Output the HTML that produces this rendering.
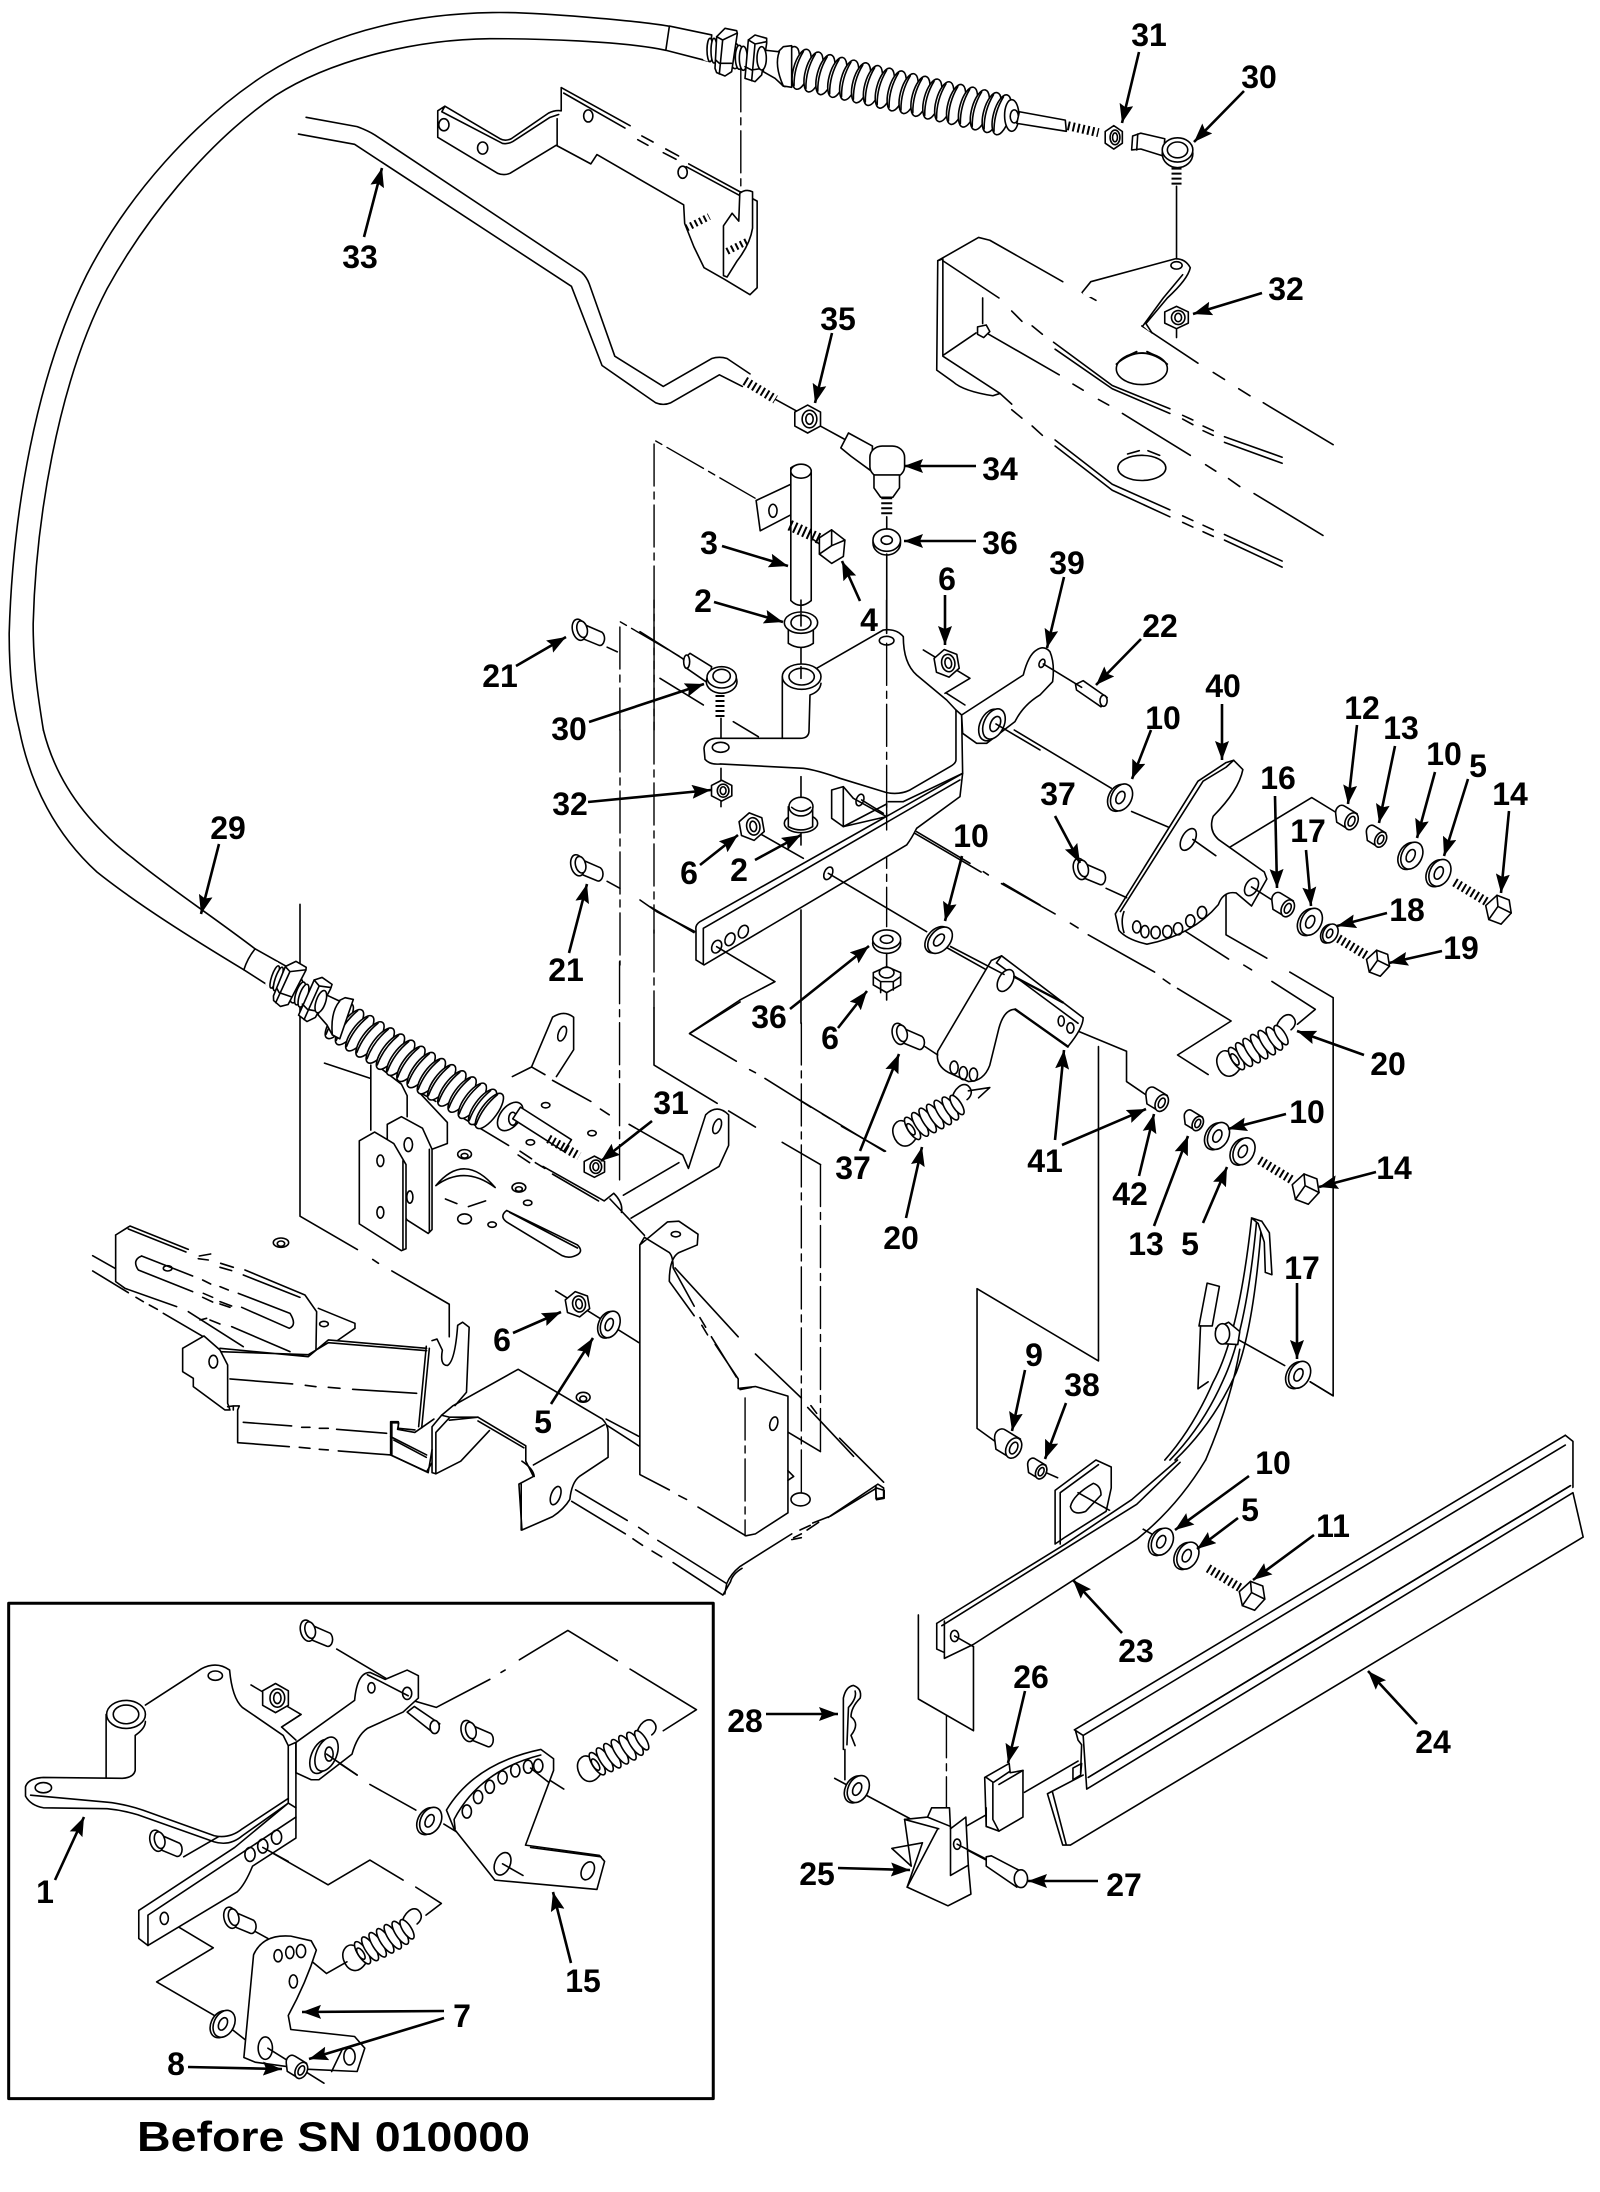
<!DOCTYPE html>
<html><head><meta charset="utf-8"><style>
html,body{margin:0;padding:0;background:#fff}
svg{display:block}
svg *{vector-effect:non-scaling-stroke}
.a{fill:none;stroke:#000;stroke-width:1.6;stroke-linejoin:round;stroke-linecap:round}
.a .f,.f{fill:#fff}
.c{stroke-dasharray:42 6 7 6;stroke-width:1.4}
.t{stroke-width:7;stroke-dasharray:2 3;stroke-linecap:butt}
.lb text{font:bold 32px "Liberation Sans",sans-serif;text-anchor:middle;fill:#000}
.ar line{stroke:#000;stroke-width:2.6;marker-end:url(#ah)}
</style></head><body>
<svg xmlns="http://www.w3.org/2000/svg" width="1600" height="2192" viewBox="0 0 1600 2192">
<defs>
<marker id="ah" markerUnits="userSpaceOnUse" markerWidth="20" markerHeight="16" refX="19" refY="7" orient="auto"><path d="M0,0L19,7L0,14L3,7Z" fill="#000" style="vector-effect:none"/></marker>
<g id="w" class="f"><ellipse cx="-3" cy="2" rx="20" ry="30" transform="rotate(22)"/><ellipse cx="2" cy="-1" rx="20" ry="30" transform="rotate(22)"/><ellipse rx="8" ry="14" transform="rotate(22)"/></g>
<g id="u" class="f"><path d="M-22,-10A12,16 0 0 1 -4,-26L20,-10L4,24L-20,8Z"/><ellipse cx="9" cy="6" rx="12" ry="19" transform="rotate(22 9 6)"/><ellipse cx="9" cy="6" rx="6" ry="11" transform="rotate(22 9 6)"/></g>
<g id="n" class="f"><path d="M0,-24L21,-12L21,12L0,24L-21,12L-21,-12Z"/><ellipse cx="3" rx="12" ry="15"/><ellipse cx="3" rx="6" ry="9"/></g>
<g id="b" class="f"><line class="t" x1="-85" y1="-58" x2="-22" y2="-16" style="stroke-width:9"/><path d="M-24,-8L-2,-30L22,-20L26,8L6,32L-18,22Z"/><path d="M-2,-30L0,-6L26,8M0,-6L-18,22" /></g>
<g id="p" class="f"><path d="M0,-14L42,6A9,15 0 0 1 36,34L-4,16Z"/><ellipse cx="-3" rx="13" ry="23" transform="rotate(-12)"/><ellipse cx="3" rx="10" ry="18" transform="rotate(-12)"/></g>
<g id="s"><path d="M-60,25C-90,42 -102,18 -96,-6C-90,-30 -70,-36 -62,-25M48,-15C62,-38 92,-44 94,-24C96,-10 86,-2 76,0"/><g class="f"><ellipse cx="-54" rx="10" ry="30"/><ellipse cx="-36" rx="10" ry="32"/><ellipse cx="-18" rx="10" ry="33"/><ellipse cx="0" rx="10" ry="33"/><ellipse cx="18" rx="10" ry="33"/><ellipse cx="36" rx="10" ry="31"/><ellipse cx="52" rx="9" ry="26"/></g><ellipse cx="-58" rx="6" ry="15"/></g>
<g id="r"><ellipse class="f" rx="16" ry="44"/><path d="M-6,-38Q-16,0 -6,38"/></g>
<g id="cn"><path class="f" d="M25,105L10,105L10,180L25,185Z" style="stroke:none"/>
<ellipse class="f" cx="30" cy="150" rx="9" ry="35"/><ellipse class="f" cx="42" cy="152" rx="9" ry="37"/>
<path class="f" d="M190,150L235,155L250,140L275,137L275,262L250,258L225,235L190,215Z"/>
<path d="M238,155Q222,195 250,258"/>
<ellipse class="f" cx="105" cy="168" rx="16" ry="38"/><ellipse class="f" cx="118" cy="172" rx="12" ry="36"/><ellipse class="f" cx="130" cy="175" rx="12" ry="36"/>
<path class="f" d="M45,205L50,110L75,85L110,92L112,100L95,215L75,228L50,218Z"/><path d="M50,110L68,120L110,100M68,120L58,222M47,180L58,190L95,190"/>
<path class="f" d="M135,235L145,120L165,105L200,115L200,130L185,225L165,245Z"/><path d="M145,120L165,132L200,125M165,132L155,242M135,200L155,210L188,205"/>
<ellipse class="f" cx="185" cy="175" rx="14" ry="35"/></g>
</defs>

<!-- Q1 upper-left : cable, rod, upper bracket -->
<g class="a" transform="scale(.5102,.4656)">
<path d="M1310,56C1250,45 1050,25 965,27C800,30 650,70 520,160C380,260 250,420 170,590C70,810 25,1100 18,1360C18,1450 25,1510 38,1568"/>
<path d="M1305,108C1220,88 1050,83 960,83C800,85 640,135 540,205C400,310 280,480 210,620C110,830 70,1130 65,1340C65,1430 75,1500 85,1568"/>
<path class="f" d="M1312,56L1395,75L1390,132L1305,108Z"/>
<line class="c" x1="1452" y1="150" x2="1452" y2="425"/>

<path class="f" d="M858,238L872,228L980,298Q990,304 1002,298L1075,243Q1088,236 1100,238L1100,188L1484,432L1484,618L1470,633L1420,600L1380,575L1360,530L1342,480L1340,440L1170,332L1158,352L1090,312L1000,372Q988,378 975,372L858,295Z" style="stroke:none"/>
<path d="M1100,238L1100,188L1235,270M1105,200L1225,275M1258,292L1280,305M1250,300L1270,312M1305,320L1330,335M1300,328L1325,342M1350,352L1484,432L1484,618L1470,633L1420,600L1380,575L1360,530L1342,480L1340,440L1170,332L1158,352L1090,312L1000,372Q988,378 975,372L858,295L858,238L872,228L980,298Q990,304 1002,298L1075,243Q1088,236 1100,238M872,228L866,240L985,308Q995,310 1005,304L1078,252L1095,246M1092,255L1092,312M1345,358L1450,420"/>
<ellipse cx="870" cy="268" rx="10" ry="13"/><ellipse cx="946" cy="318" rx="10" ry="13"/><ellipse cx="1153" cy="249" rx="9" ry="13"/><ellipse cx="1338" cy="370" rx="9" ry="13"/>
<line class="t" x1="1345" y1="490" x2="1390" y2="465"/>
<path class="f" d="M1450,415Q1462,405 1475,412L1475,490Q1470,525 1445,560L1425,595L1418,592L1418,485L1435,458L1448,475Z"/>
<line class="t" x1="1425" y1="540" x2="1465" y2="518"/>

<path d="M600,252L700,272Q720,280 735,290L1140,585Q1150,595 1155,610L1205,765L1300,830L1395,770Q1410,765 1425,770L1470,803"/>
<path d="M585,288L695,310L1120,615L1180,785L1285,865Q1300,872 1315,865L1410,805L1455,830"/>
<line class="t" x1="1460" y1="818" x2="1520" y2="858" style="stroke-width:9"/>
<line x1="1520" y1="858" x2="1570" y2="888"/>

<path d="M1282,1568L1282,945L1480,1070" class="c" />
<path d="M1215,1568L1215,1335L1345,1418" class="c"/>
<path class="f" d="M1482,1075L1560,1035L1560,1100L1490,1140Z"/>
<ellipse cx="1515" cy="1097" rx="8" ry="14"/>
<use href="#p" transform="translate(1138,1352)"/>
<line x1="1190" y1="1390" x2="1210" y2="1400"/>
</g>

<!-- Q2 upper-right -->
<g class="a" transform="translate(800,0) scale(.5102,.4656)">
<g transform="translate(-20,143) rotate(14)">
<use href="#r"/><use href="#r" x="24"/><use href="#r" x="48"/><use href="#r" x="72"/><use href="#r" x="96"/><use href="#r" x="120"/><use href="#r" x="144"/><use href="#r" x="168"/><use href="#r" x="192"/><use href="#r" x="216"/><use href="#r" x="240"/><use href="#r" x="264"/><use href="#r" x="288"/><use href="#r" x="312"/><use href="#r" x="336"/><use href="#r" x="360"/><use href="#r" x="384"/><use href="#r" x="408"/><use href="#r" x="428"/>
</g>
<ellipse class="f" cx="415" cy="248" rx="14" ry="34"/><ellipse class="f" cx="420" cy="250" rx="8" ry="14"/>
<path class="f" d="M430,240L520,258L522,282L425,265Z"/>
<line class="t" x1="525" y1="270" x2="585" y2="285" style="stroke-width:9"/>
<use href="#n" transform="translate(615,295) scale(.8,1.05)"/>
<path class="f" d="M652,292L668,286L715,298L712,335L668,320L650,322Z"/><path d="M662,288L660,322"/>
<line x1="738" y1="400" x2="738" y2="560"/>
<line x1="738" y1="700" x2="738" y2="725"/>
<path d="M270,560L350,510L372,516L515,605M555,630L580,645M670,700L780,780M810,800L832,815M860,835L882,850M908,865L1045,955"/>
<path class="f" d="M270,560L280,556L280,765L392,845L378,850Q320,840 300,820L268,795Z"/>
<path d="M280,560L390,640M415,668L435,690M455,700L475,718M500,750L612,835L725,888M750,900L770,912M790,925L810,935M832,950L945,995M497,735L612,828L725,878M750,892L770,902M790,915L810,925M832,938L945,982"/>
<path d="M358,640L358,695M282,762L345,715M370,718L508,805M535,825L555,838M585,858L605,870M632,888L765,978M795,998L815,1012M840,1028L862,1045M890,1060L1025,1150"/>
<path d="M392,845L415,868M415,880L435,898M455,915L475,935M500,945L612,1040L725,1095M750,1108L770,1118M790,1128L810,1138M832,1148L945,1205M500,958L612,1053L725,1110M750,1122L770,1132M790,1142L810,1152M832,1160L945,1218"/>
<path class="f" d="M348,702L365,698L372,712L360,725L348,718Z"/>
<ellipse class="f" cx="670" cy="792" rx="50" ry="34"/><path d="M620,782Q670,735 720,782M640,765L660,755M680,755L705,768"/>
<ellipse class="f" cx="670" cy="1005" rx="47" ry="27"/><path d="M642,975L665,968M682,968L705,978"/>
<path class="f" d="M553,628L570,605L735,556Q755,555 765,575Q760,600 690,680L685,712L672,700L720,620L730,600L560,640Z" style="stroke:none"/>
<path d="M553,628L570,605L735,556Q755,555 765,575Q760,600 720,640L678,695L690,715M672,700L712,640L750,590"/>
<ellipse class="f" cx="738" cy="570" rx="11" ry="8"/>
<use href="#n" transform="translate(738,682) scale(1.1,1)"/>
<g transform="translate(740,322)"><line class="t" x1="-2" y1="38" x2="-2" y2="80" style="stroke-width:10"/><ellipse class="f" cy="8" rx="30" ry="30"/><ellipse class="f" rx="30" ry="26"/><ellipse rx="20" ry="17"/></g>
<use href="#n" transform="translate(15,900) scale(1.2,1.25)"/>
<line x1="40" y1="915" x2="90" y2="945"/>
<path class="f" d="M80,962L95,930L142,958L140,1012L100,980Z"/>
<rect class="f" x="137" y="958" width="68" height="68" rx="24"/>
<path class="f" d="M145,1020L195,1020L195,1048L182,1068L158,1068L145,1048Z"/>
<line class="t" x1="170" y1="1068" x2="170" y2="1110" style="stroke-width:11"/>
<ellipse class="f" cx="170" cy="1166" rx="27" ry="26"/><ellipse class="f" cx="170" cy="1160" rx="27" ry="24"/><ellipse cx="170" cy="1160" rx="11" ry="9"/>
<line x1="170" y1="1110" x2="170" y2="1136"/><line x1="170" y1="1190" x2="170" y2="1350"/>
<line x1="-10" y1="1130" x2="40" y2="1170"/>
<path class="f" d="M-18,1005L-18,1290Q0,1310 22,1290L22,1010Q0,990 -18,1005Z"/><ellipse class="f" cx="2" cy="1012" rx="20" ry="15"/>
<line class="t" x1="-20" y1="1128" x2="40" y2="1158" style="stroke-width:11"/>
<path class="f" d="M38,1155L62,1138L88,1160L85,1195L62,1210L38,1190Z"/><path d="M62,1138L62,1172L88,1160M62,1172L38,1190"/>
<path class="f" d="M540,1470L555,1462L602,1498L590,1518L542,1482Z"/><ellipse class="f" cx="595" cy="1505" rx="7" ry="12"/>
</g>
<!-- top cable end nuts -->
<g class="a"><use href="#cn" transform="translate(700,0) scale(.3333)"/></g>

<!-- Y left bracket -->
<g class="a" transform="translate(0,1180) scale(.3333)">
<path d="M278,227L345,265M278,273L385,338M408,352L430,365M448,375L472,388M490,400L610,470"/>
<path d="M347,165L390,138L565,208M385,147L558,216M598,228L632,222M595,236L625,240M662,250L700,262M660,262L695,272M735,270L915,345L950,395L948,510M730,285L900,352"/>
<path d="M347,165L347,305L375,325L530,380M695,440L870,515"/>
<path d="M425,228L578,288M425,228Q395,240 415,270L578,335M608,300L632,312M660,320L685,330M610,340L638,352M608,352L638,366M660,365L695,378M660,372L690,382M715,340L870,400Q892,435 868,445L725,382"/>
<ellipse cx="503" cy="265" rx="13" ry="8"/>
<path d="M955,385L1065,430L1065,445L1012,482"/><ellipse cx="972" cy="432" rx="13" ry="8"/>
<path d="M565,395L730,500M600,420L620,415M630,420L660,432"/>
<path class="f" d="M660,505L925,530L985,480L1280,505L1300,490L1320,485L1332,510L1320,540L1280,520L1255,745L1195,750L1172,825L713,788L713,690L683,670L683,555Z" style="stroke:none"/>
<path d="M660,505L925,530L985,480L1280,505M660,515L925,524L985,488L1280,512"/>
<path class="f" d="M548,505L612,468L660,510L683,555L683,670L690,690L675,690L580,620L580,595L548,575Z"/>
<ellipse cx="640" cy="545" rx="13" ry="19"/>
<path d="M690,597L878,612M916,616L948,620M985,622L1020,625M1058,628L1250,640"/>
<path d="M683,680L700,678L700,690M700,678L718,678L713,690L713,788L868,800M898,802L930,805M958,808L985,810M1015,813L1172,825L1172,725L1195,725L1195,745L1245,750"/>
<path d="M730,727L875,738M905,742L930,742M958,745L985,745M1010,748L1160,760"/>
<path d="M1172,770L1280,825M1172,825L1280,875L1295,850"/>
<ellipse cx="843" cy="188" rx="23" ry="14"/><ellipse cx="843" cy="191" rx="11" ry="8"/>
</g>

<!-- Z lower-centre assembly -->
<g class="a" transform="translate(300,1000) scale(.3827)">
<line class="c" x1="835" y1="-100" x2="835" y2="470" />
<line class="c" x1="1310" y1="60" x2="1310" y2="1290"/>
<path d="M925,20L925,170L1090,270M1120,290L1190,332M1260,372L1360,430"/>
<path class="c" d="M1360,430L1360,1180"/><path d="M1360,1180L1238,1107"/>
<path d="M1018,88L1140,160M1175,182L1190,190M1215,205L1335,280M1365,298L1385,310M1415,330L1530,395"/>
<path d="M1018,88L1150,5"/>
<path d="M0,-250L0,565L150,652M190,678L205,688M240,708L390,795L390,880"/>
<path d="M64,165L185,205M310,240L385,320L385,375L345,390M310,240L355,265"/>
<path class="f" d="M185,170L200,170L265,220L280,250L280,310L185,340Z" style="stroke:none"/>
<path d="M185,170L185,340M200,170L265,220L280,250L280,305"/>
<path class="f" d="M228,325L265,305L320,335L345,390L345,600L335,610L280,575L228,500Z"/>
<path class="f" d="M155,368L195,345L245,375L277,430L277,650L265,655L155,585Z"/>
<path d="M269,420L269,650"/><path d="M338,390L338,605"/>
<ellipse cx="210" cy="420" rx="9" ry="15"/><ellipse cx="210" cy="555" rx="9" ry="15"/><ellipse cx="283" cy="378" rx="11" ry="18"/><ellipse cx="287" cy="515" rx="8" ry="16"/>
<path d="M555,200L605,175L660,45Q690,25 715,45L715,130L670,200M605,175L640,195M660,210L760,265M785,285L808,300M860,325L1000,405L1015,440L1060,300Q1090,270 1120,300L1120,380L1095,435L865,570M845,510L990,425"/>
<ellipse cx="685" cy="88" rx="10" ry="20" transform="rotate(20 685 88)"/><ellipse cx="1090" cy="330" rx="10" ry="20" transform="rotate(20 1090 330)"/>
<path d="M420,305L545,380M575,395L605,415M570,405L600,425M615,425L640,440M635,435L795,525L820,505Q845,530 840,555M660,455L780,525M810,520L900,615"/>
<path d="M355,485Q430,395 510,490M355,485Q430,430 510,490M380,520L410,532M440,540L485,525"/>
<ellipse cx="430" cy="403" rx="18" ry="12"/><ellipse cx="430" cy="407" rx="9" ry="6"/><ellipse cx="572" cy="490" rx="18" ry="12"/><ellipse cx="572" cy="494" rx="9" ry="6"/><ellipse cx="595" cy="530" rx="11" ry="7"/><ellipse cx="430" cy="572" rx="18" ry="13"/><ellipse cx="502" cy="587" rx="11" ry="7"/><ellipse cx="642" cy="275" rx="11" ry="7"/><ellipse cx="763" cy="348" rx="11" ry="7"/><ellipse cx="602" cy="372" rx="11" ry="7"/>
<path d="M540,550L725,640Q745,660 715,670Q700,675 685,668L540,580Q520,565 540,550ZM548,555L725,648"/>
<line x1="668" y1="760" x2="885" y2="895"/>
<use href="#n" transform="translate(725,795) rotate(-10) scale(1.4,1.4)"/>
<use href="#w" transform="translate(808,848) scale(1.2)"/>
<!-- tall panel -->
<path class="f" d="M888,1240L888,640L960,580L990,578L1040,612L1038,640L990,660Q965,675 965,735L1145,990L1145,1015L1190,1010L1275,1035L1275,1340L1190,1395L1165,1400L1140,1385Z" style="stroke:none"/>
<path d="M888,895L888,640L960,580L990,578L1040,612L1038,640L990,660Q965,675 965,735L1030,825M1050,850L1065,875M1085,900L1145,990L1145,1015L1190,1010L1275,1035L1275,1340L1190,1395L1165,1400L1140,1385L1040,1325M1010,1305L990,1295M965,1280L888,1240L888,895M975,700L1030,800M1045,830L1060,855M1075,880L1140,985M1150,1018L1180,1012M888,640L900,620L965,660M965,660Q975,670 975,700"/>
<ellipse cx="982" cy="612" rx="12" ry="7"/><ellipse cx="1238" cy="1107" rx="10" ry="18" transform="rotate(15 1238 1107)"/>
<line class="c" x1="1163" y1="1040" x2="1163" y2="1400"/>
<path d="M980,700L1145,880M1190,925L1310,1040M1335,1060L1350,1080M1410,1145L1525,1260"/>
<ellipse cx="1308" cy="1305" rx="25" ry="17"/><path d="M1275,1230L1290,1245L1275,1255"/>
<!-- base plate -->
<path d="M720,1280L855,1360M885,1378L910,1395M935,1412L1115,1525Q1125,1500 1150,1480L1285,1395M1290,1405L1310,1395M1325,1385L1355,1365M1380,1352L1510,1265L1525,1275L1525,1300L1505,1303L1505,1270M710,1310L850,1395M870,1408L895,1425M920,1440L945,1455M975,1470L1105,1555L1125,1520Q1130,1500 1155,1485M1115,1525L1110,1552M1285,1410L1310,1405"/>
<path d="M800,1095L885,1140M800,1110L885,1165"/>
<!-- centre hump bracket -->
<path class="f" d="M345,1235L345,1115L370,1085L400,1060L570,965L790,1095Q805,1110 805,1130L805,1195L730,1245Q710,1260 705,1305Q690,1330 660,1350L580,1385L572,1265L610,1245L590,1205L590,1165L465,1090L392,1090L355,1130L355,1238Z"/>
<path d="M370,1085L390,1090M390,1098L465,1090M465,1100L585,1170M610,1215L795,1110M355,1238L420,1205L495,1125M580,1205Q610,1225 612,1245M578,1265L578,1385"/>
<ellipse cx="740" cy="1038" rx="18" ry="13"/><ellipse cx="740" cy="1042" rx="9" ry="7"/>
<ellipse cx="668" cy="1295" rx="12" ry="25" transform="rotate(20 668 1295)"/>
<path d="M240,1105L258,1105L255,1122L300,1130L350,1095"/>
<path d="M240,1105L240,1190L335,1235L345,1175M245,1150L330,1195"/>
<path d="M330,905L310,1115M338,910L318,1118M345,890L358,886L372,915Q365,955 385,955Q405,945 412,850L425,842L442,855L435,1025L405,1060"/>
</g>

<!-- connecting lines in real px -->
<g class="a">
<line class="c" x1="654" y1="930" x2="654" y2="1008"/>
<line class="c" x1="620" y1="730" x2="620" y2="965"/>
<path d="M740,1000L690,1033"/>
</g>

<!-- X middle lever assembly -->
<g class="a" transform="translate(640,600) scale(.3333)">
<path d="M0,95L195,218M60,235L190,315M280,365L355,410"/>
<line class="c" x1="42" y1="0" x2="42" y2="1000"/>
<line x1="483" y1="0" x2="483" y2="45"/><line x1="483" y1="135" x2="483" y2="200"/>
<path d="M0,900L50,935M50,935L165,995"/>
<!-- plate and lever fill -->
<path class="f" d="M427,230L543,250L530,205L730,90Q770,85 790,110Q790,190 830,225L948,310L948,480L800,605L480,505L240,495L195,480L192,445L225,415L427,415Z" style="stroke:none"/>
<path d="M530,205L730,90Q770,85 790,110Q790,190 830,225L920,300L948,330L948,480Q948,490 930,500L810,570Q780,585 740,578L600,535Q530,510 490,505L240,492Q210,495 195,478L192,445Q195,420 225,415L480,415Q505,415 507,395L510,285Q540,275 543,250"/>
<path d="M427,230L427,415"/>
<ellipse class="f" cx="485" cy="230" rx="58" ry="38"/><ellipse class="f" cx="485" cy="230" rx="38" ry="25"/>
<line x1="483" y1="200" x2="483" y2="235"/>
<ellipse class="f" cx="242" cy="442" rx="25" ry="15"/><ellipse class="f" cx="740" cy="122" rx="22" ry="13"/>
<line x1="740" y1="0" x2="740" y2="100"/>
<line class="c" x1="740" y1="130" x2="740" y2="980" />
<!-- second skin -->
<path d="M948,330L965,345L968,520L790,605L745,605"/>
<path d="M915,280L990,235L850,150" />
<path d="M920,280L975,315"/>
<!-- right arm -->
<path class="f" d="M965,345L1150,225Q1165,165 1190,150Q1212,135 1230,155Q1245,190 1238,245L1200,285Q1150,315 1125,365L1040,430L1010,430L968,400Z"/>
<ellipse cx="1206" cy="190" rx="8" ry="13" transform="rotate(25 1206 190)"/>
<path d="M1210,192L1325,262"/>
<ellipse class="f" cx="1052" cy="375" rx="32" ry="50" transform="rotate(25 1052 375)"/><ellipse class="f" cx="1062" cy="372" rx="30" ry="48" transform="rotate(25 1062 372)"/><ellipse class="f" cx="1066" cy="372" rx="14" ry="24" transform="rotate(25 1066 372)"/>
<path d="M1068,372L1200,450"/>
<!-- block -->
<path class="f" d="M575,570L610,560L640,595L740,650L610,680L575,655Z" />
<path d="M610,560L610,680M610,680L740,612"/><ellipse cx="660" cy="600" rx="11" ry="18" transform="rotate(20 660 600)"/>
<path d="M665,600L730,640"/>
<line x1="483" y1="530" x2="483" y2="595"/><line x1="483" y1="700" x2="483" y2="735"/>
<ellipse class="f" cx="483" cy="670" rx="50" ry="28"/>
<path class="f" d="M445,620L445,680Q483,700 518,680L518,620Z"/>
<ellipse class="f" cx="483" cy="620" rx="36" ry="28"/><path d="M455,622Q483,645 512,622"/>
<!-- upper bushing -->
<path class="f" d="M445,70L445,130Q483,155 520,130L520,70Z"/>
<ellipse class="f" cx="483" cy="68" rx="50" ry="32"/><ellipse class="f" cx="483" cy="68" rx="30" ry="22"/>
<line x1="483" y1="40" x2="483" y2="78"/>
<!-- bar -->
<path class="f" d="M960,525L180,965Q165,975 168,990L168,1080L192,1095L800,735Q815,715 830,685L960,590L968,520Z"/>
<path d="M190,1090L190,985L960,540"/>
<ellipse cx="230" cy="1040" rx="14" ry="20" transform="rotate(25 230 1040)"/><ellipse cx="270" cy="1018" rx="14" ry="20" transform="rotate(25 270 1018)"/><ellipse cx="310" cy="995" rx="14" ry="20" transform="rotate(25 310 995)"/><ellipse cx="565" cy="820" rx="12" ry="20" transform="rotate(25 565 820)"/>
<line x1="740" y1="605" x2="740" y2="690" class="c"/>
<path d="M483,930L483,1270M830,695L990,790M1030,815L1045,825M1090,850L1200,915M358,700L490,775M565,820L860,995M915,1040L1040,1110M230,1040L405,1145L300,1200"/>
<!-- eyelet -->
<path class="f" d="M130,178L150,160L215,200L205,250L140,205Z"/><ellipse class="f" cx="140" cy="185" rx="9" ry="20"/>
<line class="t" x1="240" y1="285" x2="240" y2="355" style="stroke-width:9"/>
<ellipse class="f" cx="245" cy="245" rx="46" ry="35"/><ellipse class="f" cx="245" cy="232" rx="44" ry="32"/><ellipse class="f" cx="245" cy="228" rx="26" ry="20"/>
<line x1="243" y1="355" x2="243" y2="412"/><line x1="243" y1="505" x2="243" y2="620"/>
<use href="#n" transform="translate(245,572) scale(1.45,1.3)"/>
<use href="#n" transform="translate(335,680) rotate(-10) scale(1.65,1.75)"/>
<use href="#n" transform="translate(920,190) rotate(-10) scale(1.65,1.75)"/>
<ellipse class="f" cx="740" cy="1030" rx="42" ry="30"/><ellipse class="f" cx="740" cy="1018" rx="42" ry="28"/><ellipse cx="740" cy="1018" rx="19" ry="12"/>
<line x1="740" y1="1060" x2="740" y2="1100"/>
<path class="f" d="M740,1100L782,1118L782,1155L740,1178L700,1155L700,1118Z"/><ellipse class="f" cx="740" cy="1118" rx="22" ry="16"/><path d="M700,1130L722,1145L760,1145L782,1130M722,1145L722,1178M760,1145L760,1170"/>
<use href="#w" transform="translate(897,1020) rotate(18) scale(1.5)"/>
<line x1="740" y1="1178" x2="740" y2="1200"/>
</g>

<!-- Q3 cable + left assembly upper -->
<g class="a" transform="translate(0,730) scale(.5102,.4656)">
<path d="M85,0C110,110 170,200 260,275C320,330 410,395 500,470"/>
<path d="M38,0C60,120 110,225 190,305C270,375 380,450 478,515"/>
<path class="f" d="M500,470L565,510L535,555L478,515Q485,490 500,470Z"/>
<g transform="translate(665,625) rotate(33.3)">
<use href="#r"/><use href="#r" x="24"/><use href="#r" x="48"/><use href="#r" x="72"/><use href="#r" x="96"/><use href="#r" x="120"/><use href="#r" x="144"/><use href="#r" x="168"/><use href="#r" x="192"/><use href="#r" x="216"/><use href="#r" x="240"/><use href="#r" x="264"/><use href="#r" x="288"/><use href="#r" x="312"/><use href="#r" x="336"/><use href="#r" x="352"/>
</g>
<ellipse class="f" cx="1000" cy="830" rx="20" ry="34" transform="rotate(33 1000 830)"/><ellipse cx="1005" cy="835" rx="8" ry="14"/>
<path class="f" d="M1005,835L1020,810L1120,880L1105,905Z"/>
<line class="t" x1="1075" y1="878" x2="1135" y2="915" style="stroke-width:9"/>
<use href="#n" transform="translate(1165,938) scale(.95,.95)"/>
<use href="#p" transform="translate(1135,290)"/>
<path d="M1190,325L1215,340M1275,380L1360,435"/>
</g>
<g class="a"><use href="#cn" transform="translate(303,992) rotate(19) scale(.3333) translate(-125,-165)"/></g>

<!-- Q4 right-mid -->
<g class="a" transform="translate(800,730) scale(.5102,.4656)">
<path d="M0,795L165,905"/>
<path d="M15,1455L105,1560"/>
<path d="M420,0L610,125M650,175L725,210"/>
<path d="M225,222L355,305M395,330L500,395M530,415L545,425M565,440L695,520M712,535L725,545M740,555L845,625L740,698L800,740"/>
<path d="M745,425L840,492M870,505L885,515M925,540L1010,600L975,632"/>
<path d="M1045,575L1045,1430L1000,1400M835,308L835,440L915,490M835,308L870,335M960,520L1045,575"/>
<path d="M815,270L1003,145L1052,178"/>
<path d="M640,690L640,755L680,785M530,640L640,690M585,680L585,1355L347,1200L347,1500L385,1530" />
<!-- plate 40 -->
<path class="f" d="M835,70L850,65L868,85Q860,130 810,185Q800,215 820,235L910,305L915,320L885,378L855,350Q830,345 820,375Q770,440 680,460Q640,450 625,430L618,395L780,110Z"/>
<path d="M628,390L790,110L835,80L850,65M635,435Q628,410 635,390"/>
<ellipse class="f" cx="761" cy="235" rx="13" ry="25" transform="rotate(25 761 235)"/><ellipse class="f" cx="885" cy="337" rx="12" ry="20" transform="rotate(25 885 337)"/>
<ellipse cx="660" cy="423" rx="8" ry="13"/><ellipse cx="676" cy="433" rx="8" ry="13"/><ellipse cx="697" cy="435" rx="9" ry="13"/><ellipse cx="720" cy="433" rx="9" ry="13"/><ellipse cx="741" cy="427" rx="9" ry="13"/><ellipse cx="765" cy="410" rx="9" ry="13"/><ellipse cx="788" cy="392" rx="9" ry="13"/>
<path d="M770,235L815,270M885,337L925,365M600,340L640,360"/>
<use href="#w" transform="translate(628,145)"/>
<use href="#p" transform="translate(552,298)"/>
<use href="#u" transform="translate(1072,190)"/>
<use href="#u" transform="translate(1130,230) scale(.9)"/>
<use href="#w" transform="translate(1197,270)"/>
<use href="#w" transform="translate(1252,307)"/>
<use href="#b" transform="translate(1368,385)"/>
<use href="#u" transform="translate(947,377)"/>
<use href="#w" transform="translate(1000,412)"/>
<use href="#w" transform="translate(1038,437) scale(.7)"/>
<use href="#b" transform="translate(1132,500) scale(.9)"/>
<use href="#s" transform="translate(900,680) rotate(-30) scale(.95,.9)"/>
<!-- 41 plate -->
<path class="f" d="M375,495L395,485L555,618Q555,640 525,680L422,600Q400,600 390,640L372,720Q360,755 330,755L290,735Q265,720 270,690Z"/>
<path d="M395,485L385,500L545,630"/>
<ellipse class="f" cx="403" cy="538" rx="14" ry="25" transform="rotate(25 403 538)"/><ellipse cx="512" cy="625" rx="6" ry="11"/><ellipse cx="530" cy="640" rx="7" ry="11"/>
<ellipse cx="302" cy="725" rx="8" ry="14"/><ellipse cx="320" cy="737" rx="8" ry="14"/><ellipse cx="340" cy="740" rx="8" ry="14"/>
<path d="M420,530L515,585M422,600L525,680" style="stroke-width:2.4"/>
<path d="M295,465L400,525"/>
<use href="#p" transform="translate(197,652)"/>
<line x1="245" y1="680" x2="270" y2="698"/>
<use href="#s" transform="translate(265,830) rotate(-30) scale(.95,.9)"/>
<path d="M330,775L372,768L350,790"/>
<use href="#u" transform="translate(700,795)"/>
<use href="#u" transform="translate(772,840) scale(.85)"/>
<use href="#w" transform="translate(818,872)"/>
<use href="#w" transform="translate(868,905)"/>
<use href="#b" transform="translate(990,985) scale(1.05)"/>
<!-- pedal arm -->
<path d="M885,1050Q860,1300 810,1400Q770,1500 715,1568M905,1055Q890,1280 855,1380Q810,1490 735,1568M895,1055Q875,1290 830,1395Q790,1495 725,1568M862,1330Q845,1440 795,1568"/>
<path class="f" d="M885,1048L905,1055L920,1080L925,1170L912,1165L910,1100L898,1060Z"/>
<path class="f" d="M798,1188L822,1195L808,1280L782,1280Z"/>
<path d="M785,1280L780,1415L800,1400"/>
<path class="f" d="M815,1285L840,1272L862,1292L858,1320L830,1318Z"/><ellipse class="f" cx="828" cy="1297" rx="14" ry="22"/>
<path d="M860,1310L950,1365M1000,1400L1045,1430"/>
<use href="#w" transform="translate(977,1385)"/>
<!-- 9 -->
<use href="#u" transform="translate(408,1535) scale(1.2)"/>
</g>

<!-- Q6 lower right -->
<g class="a" transform="translate(800,1460) scale(.5102,.4668)">
<path d="M0,150L20,140M25,135L55,122M60,120L150,60L165,65L165,82L150,85L148,60"/>
<path d="M478,25L505,38"/>
<use href="#u" transform="translate(465,20) scale(.85)"/>
<path class="f" d="M500,180L500,65L580,0L610,15L610,60L600,110L520,165Z"/>
<path d="M510,180L510,70L585,10"/>
<path d="M530,100Q535,75 575,50Q590,55 590,75L560,110Q535,120 530,100ZM545,70L700,165"/>
<path class="f" d="M268,350L520,180L740,0L795,0Q700,85 660,170L340,395L282,425L268,405Z" style="stroke:none"/>
<path d="M268,350L520,180L650,85L740,0M278,355L520,190L660,95L745,5M283,345L283,425L340,395L660,170Q740,100 795,0"/>
<ellipse cx="303" cy="377" rx="8" ry="12"/>
<path d="M303,377L340,400"/>
<path d="M232,332L232,512L340,580L340,400M268,350L268,405L282,412"/>
<line class="c" x1="287" y1="548" x2="287" y2="780"/>
<path d="M88,620L88,685M68,682L215,768M310,825L370,860M325,785L365,760M440,712L545,645"/>
<path d="M85,620L85,510Q90,485 105,483Q122,490 118,510Q100,530 100,550Q118,565 100,590L108,612M92,610L95,530Q112,510 108,495"/>
<use href="#w" transform="translate(112,705)"/>
<!-- 26 -->
<path class="f" d="M362,680L410,650L412,670L437,665L437,765L390,795L365,785Z"/><path d="M378,690L378,770L390,795M390,695L437,665M365,745L365,785M380,690L410,668M365,680L378,690"/>
<!-- 25 -->
<path class="f" d="M205,770L250,765L258,745L293,745L295,790L325,765L330,870L335,930L290,955L210,915L240,820L180,832L218,870Z"/>
<path d="M270,790L210,915M295,790L295,890L330,868M205,770L272,790M250,765L295,785"/>
<ellipse cx="308" cy="823" rx="7" ry="11"/>
<path d="M308,823L365,855"/>
<path class="f" d="M365,850L375,848L440,885L425,915L365,870Z"/><ellipse class="f" cx="433" cy="897" rx="13" ry="19"/>
<!-- washers -->
<use href="#w" transform="translate(708,175)"/>
<use href="#w" transform="translate(758,205)"/>
<use href="#b" transform="translate(885,290)"/>
<!-- rail 24 -->
<path d="M1500,-53L1515,-40L1515,60"/>
<path d="M538,578L1500,-53M555,590L1500,-32M562,705L1510,70M565,680L1510,55"/>
<path class="f" d="M538,578L555,590L555,680L562,705L555,680L530,685L485,715L515,825L530,825L1535,165L1518,58L565,680Z" style="stroke:none"/>
<path d="M538,578L555,590L562,705M540,580L545,600L552,610L550,670M565,680L1510,55M562,705L1515,70L1535,165L530,825L515,825L485,715L555,675M495,712L522,825M535,660L552,650L550,675L535,685Z"/>
</g>

<!-- Q5 inset -->
<g class="a" transform="translate(0,1460) scale(.5102,.4668)">
<rect x="17" y="307" width="1381" height="1061" style="stroke-width:3"/>
<path d="M660,405L760,470M730,490L855,530L960,470M982,455L990,450M1018,428L1113,365L1210,430M1235,448L1250,458L1365,535L1300,580M1105,705L1040,660M645,635L700,675M725,695L815,750M870,780L900,800"/>
<path d="M515,830L643,910L725,857L790,900M815,915L865,950L835,975M640,1100L590,1055M640,1100L680,1075M322,982L418,1045L307,1118L420,1190M455,1220L490,1250M500,1010L525,1025"/>
<path d="M492,482L590,545L552,572L580,600M360,850L455,790"/>
<path class="f" d="M285,525L395,447Q425,430 450,450Q455,510 475,530L555,590L565,612L565,735L475,800Q450,812 420,805L240,743L60,720L50,705Q50,685 80,680L208,680L208,545Z" style="stroke:none"/>
<path d="M285,525L395,447Q425,430 450,450Q455,510 475,530L555,590L565,612L565,735L475,805Q450,828 420,818L270,760Q240,750 210,747L85,745Q60,740 50,720L50,700Q55,682 85,680L240,682Q262,680 265,665L265,590Q285,575 285,560"/>
<path d="M208,545L208,680M60,718L210,733Q240,736 280,750L420,805Q450,812 475,790L565,725"/>
<ellipse class="f" cx="247" cy="545" rx="38" ry="30"/><ellipse cx="247" cy="545" rx="25" ry="20"/>
<ellipse cx="85" cy="702" rx="16" ry="11"/><ellipse cx="422" cy="462" rx="14" ry="10"/>
<path class="f" d="M580,605L695,515Q700,455 725,455L755,470L798,450L820,462L820,510L790,540L720,575Q700,590 690,630L625,685L610,685L580,670Z"/>
<path d="M565,612L580,605L580,745M720,460L800,505"/>
<ellipse class="f" cx="630" cy="635" rx="20" ry="38" transform="rotate(20 630 635)"/><ellipse class="f" cx="640" cy="630" rx="20" ry="38" transform="rotate(20 640 630)"/><ellipse class="f" cx="645" cy="630" rx="8" ry="15"/>
<ellipse cx="728" cy="488" rx="7" ry="11"/><ellipse cx="798" cy="500" rx="9" ry="13"/>
<path d="M640,630L700,675"/>
<path class="f" d="M798,540L812,528L862,565L850,585Z"/><ellipse class="f" cx="852" cy="572" rx="9" ry="14"/>
<use href="#n" transform="translate(540,510) scale(1.2,1.3)"/>
<path d="M552,572L590,545"/>
<path class="f" d="M580,745L580,810L495,870Q480,910 465,925L290,1040L272,1025L272,965L460,830L565,735Z"/>
<path d="M290,1040L290,975L580,765"/>
<ellipse cx="490" cy="845" rx="10" ry="15"/><ellipse cx="515" cy="827" rx="10" ry="15"/><ellipse cx="542" cy="808" rx="10" ry="15"/><ellipse cx="322" cy="982" rx="8" ry="13"/>
<path d="M515,830L565,860"/>
<use href="#p" transform="translate(310,815)"/>
<use href="#p" transform="translate(605,365)"/>
<use href="#p" transform="translate(920,580)"/>
<use href="#p" transform="translate(455,980)"/>
<use href="#s" transform="translate(1215,625) rotate(-30) scale(.95,.9)"/>
<use href="#s" transform="translate(755,1030) rotate(-30) scale(.95,.9)"/>
<use href="#w" transform="translate(842,773)"/>
<path class="f" d="M875,750Q930,650 1060,620L1085,640L1085,665L1030,825L1175,847L1185,860L1170,920L970,900L890,790Z"/>
<path d="M892,790L890,770Q940,665 1060,632M1040,830L1178,850"/>
<ellipse cx="915" cy="753" rx="9" ry="14"/><ellipse cx="937" cy="722" rx="9" ry="14"/><ellipse cx="960" cy="700" rx="9" ry="14"/><ellipse cx="985" cy="680" rx="9" ry="14"/><ellipse cx="1010" cy="665" rx="9" ry="14"/><ellipse cx="1035" cy="657" rx="9" ry="14"/><ellipse cx="1055" cy="655" rx="9" ry="14"/>
<ellipse class="f" cx="985" cy="865" rx="15" ry="25" transform="rotate(20 985 865)"/><ellipse cx="1152" cy="880" rx="12" ry="20" transform="rotate(20 1152 880)"/>
<path d="M1040,660L1075,690M985,865L1025,890"/>
<path class="f" d="M497,1060Q515,1015 570,1020L610,1030L620,1050Q600,1120 565,1190L570,1220L695,1235L715,1260L700,1310L600,1305L500,1290L478,1280Z"/>
<ellipse cx="545" cy="1062" rx="8" ry="13"/><ellipse cx="568" cy="1055" rx="8" ry="13"/><ellipse cx="590" cy="1052" rx="9" ry="14"/><ellipse cx="575" cy="1117" rx="8" ry="14"/><ellipse class="f" cx="520" cy="1260" rx="14" ry="24"/><ellipse cx="685" cy="1278" rx="11" ry="18"/>
<path d="M525,1260L635,1335M672,1260L650,1310"/>
<use href="#u" transform="translate(582,1302) scale(.95)"/>
<use href="#w" transform="translate(437,1208)"/>
</g>

<!-- arrows (real px) -->
<g class="ar">
<line x1="364" y1="237" x2="382" y2="168"/><line x1="722" y1="546" x2="788" y2="566"/><line x1="714" y1="602" x2="783" y2="622"/><line x1="516" y1="666" x2="566" y2="637"/><line x1="589" y1="722" x2="704" y2="684"/>
<line x1="1139" y1="52" x2="1122" y2="123"/><line x1="1244" y1="91" x2="1194" y2="142"/><line x1="1262" y1="293" x2="1193" y2="314"/><line x1="832" y1="333" x2="815" y2="403"/><line x1="976" y1="466" x2="904" y2="466"/><line x1="976" y1="541" x2="904" y2="541"/><line x1="860" y1="601" x2="842" y2="561"/><line x1="945" y1="595" x2="945" y2="645"/><line x1="1064" y1="577" x2="1047" y2="648"/><line x1="1141" y1="639" x2="1096" y2="685"/>
<line x1="1222" y1="704" x2="1222" y2="760"/><line x1="1151" y1="730" x2="1132" y2="779"/><line x1="1357" y1="725" x2="1348" y2="804"/><line x1="1395" y1="746" x2="1379" y2="823"/><line x1="1435" y1="772" x2="1417" y2="838"/><line x1="1468" y1="779" x2="1444" y2="856"/><line x1="1509" y1="811" x2="1501" y2="893"/><line x1="1275" y1="796" x2="1277" y2="888"/><line x1="1306" y1="850" x2="1311" y2="906"/><line x1="1387" y1="913" x2="1337" y2="926"/><line x1="1442" y1="951" x2="1389" y2="963"/><line x1="1055" y1="816" x2="1080" y2="863"/><line x1="962" y1="856" x2="945" y2="921"/><line x1="1364" y1="1055" x2="1297" y2="1031"/><line x1="838" y1="1028" x2="867" y2="991"/><line x1="860" y1="1151" x2="899" y2="1054"/><line x1="906" y1="1218" x2="922" y2="1147"/><line x1="1055" y1="1140" x2="1064" y2="1050"/><line x1="1062" y1="1145" x2="1146" y2="1109"/><line x1="1139" y1="1176" x2="1154" y2="1114"/><line x1="1154" y1="1226" x2="1188" y2="1136"/><line x1="1203" y1="1223" x2="1227" y2="1167"/><line x1="1286" y1="1114" x2="1228" y2="1129"/><line x1="1376" y1="1172" x2="1319" y2="1187"/><line x1="1297" y1="1283" x2="1297" y2="1359"/><line x1="1025" y1="1370" x2="1012" y2="1431"/><line x1="1066" y1="1403" x2="1045" y2="1459"/>
<line x1="219" y1="844" x2="201" y2="914"/><line x1="588" y1="802" x2="711" y2="790"/><line x1="700" y1="865" x2="738" y2="835"/><line x1="755" y1="860" x2="801" y2="835"/><line x1="569" y1="953" x2="587" y2="884"/><line x1="790" y1="1009" x2="869" y2="946"/><line x1="652" y1="1121" x2="601" y2="1161"/><line x1="513" y1="1333" x2="561" y2="1312"/><line x1="551" y1="1404" x2="593" y2="1338"/>
<line x1="766" y1="1714" x2="838" y2="1714"/><line x1="55" y1="1880" x2="84" y2="1817"/><line x1="571" y1="1963" x2="553" y2="1892"/><line x1="444" y1="2011" x2="302" y2="2012"/><line x1="444" y1="2018" x2="309" y2="2059"/><line x1="188" y1="2067" x2="282" y2="2069"/>
<line x1="1249" y1="1476" x2="1175" y2="1530"/><line x1="1238" y1="1518" x2="1197" y2="1549"/><line x1="1314" y1="1535" x2="1253" y2="1580"/><line x1="1122" y1="1633" x2="1073" y2="1580"/><line x1="1417" y1="1724" x2="1368" y2="1671"/><line x1="1025" y1="1691" x2="1008" y2="1763"/><line x1="838" y1="1868" x2="910" y2="1870"/><line x1="1098" y1="1881" x2="1028" y2="1881"/>
</g>

<!-- labels -->
<g class="lb">
<text x="360" y="268">33</text><text x="709" y="554">3</text><text x="703" y="612">2</text><text x="500" y="687">21</text><text x="569" y="740">30</text>
<text x="1149" y="46">31</text><text x="1259" y="88">30</text><text x="1286" y="300">32</text><text x="838" y="330">35</text><text x="1000" y="480">34</text><text x="1000" y="554">36</text><text x="869" y="631">4</text><text x="947" y="590">6</text><text x="1067" y="574">39</text><text x="1160" y="637">22</text><text x="1223" y="697">40</text><text x="1163" y="729">10</text><text x="1362" y="719">12</text><text x="1401" y="739">13</text>
<text x="1444" y="765">10</text><text x="1478" y="777">5</text><text x="1510" y="805">14</text><text x="1278" y="789">16</text><text x="1308" y="842">17</text><text x="1407" y="921">18</text><text x="1461" y="959">19</text><text x="1058" y="805">37</text><text x="971" y="847">10</text><text x="1388" y="1075">20</text><text x="830" y="1049">6</text><text x="853" y="1179">37</text><text x="901" y="1249">20</text><text x="1045" y="1172">41</text><text x="1130" y="1205">42</text><text x="1146" y="1255">13</text><text x="1190" y="1255">5</text><text x="1307" y="1123">10</text><text x="1394" y="1179">14</text><text x="1302" y="1279">17</text><text x="1034" y="1366">9</text><text x="1082" y="1396">38</text>
<text x="228" y="839">29</text><text x="570" y="815">32</text><text x="689" y="884">6</text><text x="739" y="881">2</text><text x="566" y="981">21</text><text x="769" y="1028">36</text><text x="671" y="1114">31</text><text x="502" y="1351">6</text><text x="543" y="1433">5</text>
<text x="745" y="1732">28</text><text x="45" y="1903">1</text><text x="583" y="1992">15</text><text x="462" y="2027">7</text><text x="176" y="2075">8</text>
<text x="1273" y="1474">10</text><text x="1250" y="1521">5</text><text x="1333" y="1537">11</text><text x="1136" y="1662">23</text><text x="1433" y="1753">24</text><text x="1031" y="1688">26</text><text x="817" y="1885">25</text><text x="1124" y="1896">27</text>
</g>
<text x="137" y="2151" textLength="393" lengthAdjust="spacingAndGlyphs" style="font:bold 42px 'Liberation Sans',sans-serif">Before SN 010000</text>
</svg>
</body></html>
